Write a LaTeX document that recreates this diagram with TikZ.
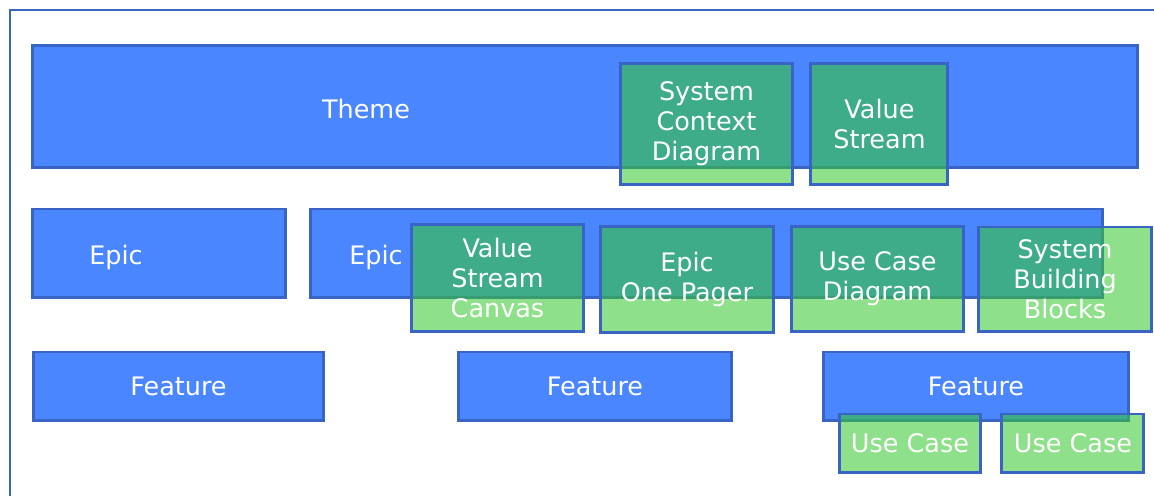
\documentclass[tikz,border=0pt]{standalone}
\usepackage{fontspec}
\setmainfont{DejaVu Sans}
\usetikzlibrary{positioning}
\definecolor{layerblue}{RGB}{74,134,255}
\definecolor{edgeblue}{RGB}{58,100,196}
\definecolor{artgreen}{RGB}{54,200,46}

\begin{document}
\begin{tikzpicture}[x=0.02cm, y=-0.02cm,
    layer/.style={rectangle, draw=edgeblue, line width=1.7pt, fill=layerblue, inner sep=0pt,
        text=white, font=\fontsize{14.5pt}{17pt}\selectfont},
    artifact/.style={rectangle, draw=edgeblue, line width=1.7pt, fill=artgreen, fill opacity=0.56,
        draw opacity=1, text opacity=1, text=white, align=center, inner sep=0pt,
        font=\fontsize{14.5pt}{17pt}\selectfont},
    caption/.style={text=white, inner sep=0pt, font=\fontsize{14.5pt}{17pt}\selectfont}]
    \useasboundingbox (0,0) rectangle (1154,496);

    % Frame
    \draw[edgeblue, line width=1.4pt] (1154,10) -- (10,10) -- (10,496);

    % Theme Layer
    \node[layer, minimum width=22.12cm, minimum height=2.46cm] (theme) at (585,106.5) {};
    \node[caption] (themeTxt) at (366,109) {Theme};

    % Epic Layer
    \node[layer, minimum width=5.08cm, minimum height=1.78cm] (epicA) at (159,253.5) {};
    \node[layer, minimum width=15.84cm, minimum height=1.78cm, right=0.44cm of epicA] (epicB) {};
    \node[caption] (epicATxt) at (116,257) {Epic};
    \node[caption] (epicBTxt) at (376,257) {Epic};

    % Feature Layer
    \node[layer, minimum width=5.82cm, minimum height=1.38cm] (featA) at (178.5,386.5) {Feature};
    \node[layer, minimum width=5.48cm, minimum height=1.38cm] (featB) at (595,386.5) {Feature};
    \node[layer, minimum width=6.12cm, minimum height=1.38cm] (featC) at (976,386.5) {Feature};

    % Theme Artifacts
    \node[artifact, minimum width=3.46cm, minimum height=2.44cm] (sysctx) at (706.5,124) {System\\Context\\Diagram};
    \node[artifact, minimum width=2.74cm, minimum height=2.44cm, right=0.30cm of sysctx] (vstream) {Value\\Stream};

    % Epic Artifacts
    \node[artifact, minimum width=3.46cm, minimum height=2.16cm] (vscanvas) at (497.5,278) {Value\\Stream\\Canvas};
    \node[artifact, minimum width=3.48cm, minimum height=2.14cm] (onepager) at (687,279.5) {Epic\\One Pager};
    \node[artifact, minimum width=3.46cm, minimum height=2.12cm] (ucdiag) at (877.5,279) {Use Case\\Diagram};
    \node[artifact, minimum width=3.48cm, minimum height=2.10cm] (sysblocks) at (1065,279.5) {System\\Building\\Blocks};

    % Feature Artifacts
    \node[artifact, minimum width=2.84cm, minimum height=1.18cm] (usecaseA) at (910,443.5) {Use Case};
    \node[artifact, minimum width=2.84cm, minimum height=1.18cm, right=0.36cm of usecaseA] (usecaseB) {Use Case};
\end{tikzpicture}
\end{document}
